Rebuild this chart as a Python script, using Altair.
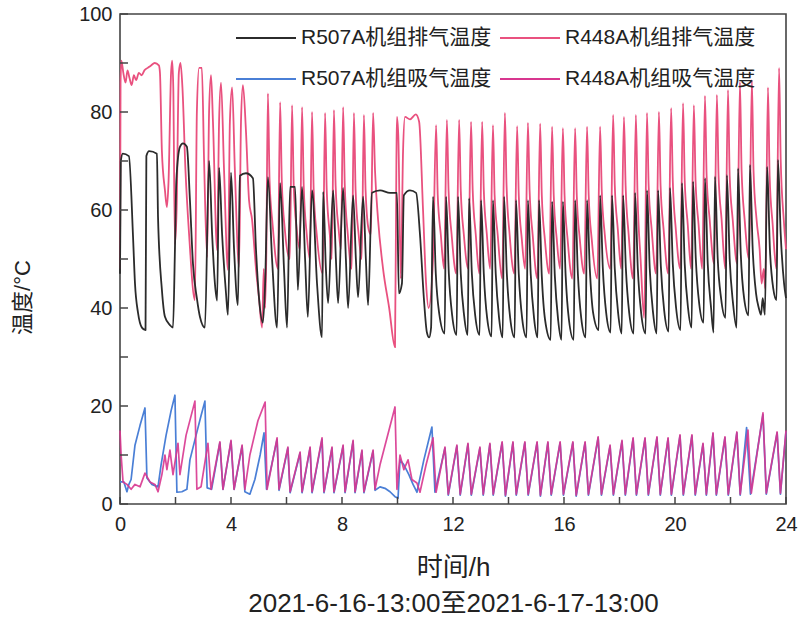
import altair as alt
import pandas as pd

# ---------------- data (hours, °C) ----------------
hours_major = [0, 4, 8, 12, 16, 20, 24]
hours_minor = [2, 6, 10, 14, 18, 22]
temp_major = [0, 20, 40, 60, 80, 100]
temp_minor = [10, 30, 50, 70, 90]

series_names = ["R507A机组排气温度", "R448A机组排气温度", "R507A机组吸气温度", "R448A机组吸气温度"]
series_colors = ["#2b2b2b", "#e9517f", "#4a7fd6", "#d8368f"]
# legend grid is filled column by column: this order gives rows (排气, 排气) / (吸气, 吸气)
legend_order = [series_names[0], series_names[2], series_names[1], series_names[3]]
legend_colors = [series_colors[0], series_colors[2], series_colors[1], series_colors[3]]

r507a_discharge = [
    (0.00, 47), (0.03, 70), (0.10, 71.5), (0.32, 71), (0.47, 54.5), (0.54, 45), (0.65, 39), (0.79, 36), (0.92, 35.5),
    (0.95, 71), (1.05, 72), (1.33, 71.5), (1.37, 58.6), (1.51, 43.7), (1.62, 38.2), (1.80, 36.5), (1.91, 36),
    (1.98, 52), (2.03, 66), (2.16, 72.9), (2.27, 73.6), (2.41, 72.9), (2.52, 62), (2.63, 49), (2.77, 42), (2.88, 38.2), (3.06, 36),
    (3.21, 70), (3.32, 55), (3.42, 45), (3.50, 41.5),
    (3.57, 68.6), (3.68, 55), (3.82, 43), (3.89, 38.6),
    (4.00, 67.6), (4.11, 52), (4.25, 40.6),
    (4.32, 67), (4.54, 67.5), (4.79, 66.5), (4.90, 52), (5.01, 42), (5.15, 37), (5.23, 45),
    (5.33, 66.7), (5.48, 50), (5.66, 36),
    (5.77, 65.5), (5.91, 48), (6.02, 36),
    (6.13, 64.7), (6.31, 64.7), (6.41, 43.7),
    (6.56, 64.7), (6.67, 50), (6.77, 38.2),
    (6.92, 64), (7.10, 45), (7.28, 34),
    (7.32, 63.7), (7.42, 48), (7.50, 41),
    (7.68, 64), (7.78, 50), (7.86, 41),
    (8.04, 64.5), (8.14, 50), (8.22, 40),
    (8.40, 63), (8.50, 50), (8.58, 42.2),
    (8.76, 62.7), (8.86, 50), (8.94, 40.6),
    (9.08, 63.5), (9.37, 64), (9.73, 63.5), (9.98, 63.5), (10.05, 43), (10.16, 45),
    (10.23, 63), (10.45, 64), (10.67, 63.5), (10.81, 55), (10.95, 42), (11.06, 35), (11.14, 34), (11.21, 36),
    (11.28, 62.7), (11.38, 47), (11.50, 39), (11.70, 34.8),
    (11.75, 62.7), (11.85, 47), (11.97, 38.5), (12.13, 34.5),
    (12.18, 62.7), (12.28, 47), (12.40, 38.5), (12.53, 34.5),
    (12.58, 62.4), (12.68, 47), (12.80, 38.5), (12.96, 34.5),
    (13.01, 62), (13.11, 47), (13.23, 38), (13.39, 34.2),
    (13.44, 62), (13.54, 47), (13.66, 38), (13.79, 34),
    (13.84, 62.7), (13.94, 47), (14.06, 38), (14.22, 34),
    (14.27, 62), (14.37, 47), (14.49, 38), (14.65, 34),
    (14.70, 62), (14.80, 47), (14.92, 38), (15.05, 34),
    (15.10, 62), (15.20, 46.5), (15.32, 37.5), (15.52, 33.5),
    (15.57, 61.7), (15.67, 46.5), (15.79, 37.5), (15.91, 33.5),
    (15.96, 61.7), (16.06, 46.5), (16.18, 37.5), (16.35, 33.5),
    (16.40, 62), (16.50, 47), (16.62, 38), (16.78, 34),
    (16.83, 62), (16.93, 48), (17.05, 39), (17.25, 35.5),
    (17.30, 63), (17.40, 48), (17.52, 39), (17.68, 35),
    (17.73, 63), (17.83, 48), (17.95, 39), (18.08, 34.8),
    (18.13, 63), (18.23, 48), (18.35, 39), (18.51, 34.8),
    (18.56, 63.5), (18.66, 48), (18.78, 39), (18.94, 34.8),
    (18.99, 64), (19.09, 48), (19.21, 39), (19.34, 34.8),
    (19.39, 64), (19.49, 48.5), (19.61, 39.5), (19.77, 35.2),
    (19.82, 64.5), (19.92, 49), (20.04, 40), (20.20, 35.5),
    (20.25, 65.5), (20.35, 49), (20.47, 40), (20.60, 36),
    (20.65, 65.8), (20.75, 50), (20.87, 41), (21.03, 37),
    (21.08, 66.5), (21.18, 49), (21.30, 40), (21.39, 35),
    (21.44, 66.8), (21.54, 50), (21.66, 42), (21.82, 38),
    (21.87, 67.1), (21.97, 50), (22.09, 41), (22.22, 36),
    (22.27, 68.5), (22.37, 51), (22.49, 42), (22.65, 38.5),
    (22.70, 69.2), (22.80, 52), (22.92, 43), (23.02, 40), (23.10, 38.6), (23.16, 42), (23.24, 38.6),
    (23.32, 68.8), (23.42, 52), (23.54, 44), (23.66, 41.6),
    (23.71, 70.2), (23.81, 55), (23.93, 45), (24.00, 42),
]

r448a_discharge = [
    (0.00, 48), (0.02, 86), (0.05, 90.5), (0.12, 88), (0.20, 86), (0.27, 88.5), (0.34, 87), (0.42, 85.5), (0.50, 87.5),
    (0.58, 86.5), (0.68, 88), (0.78, 87.5), (0.88, 88.5), (1.00, 89), (1.12, 89.5), (1.25, 90), (1.40, 89.5),
    (1.44, 88), (1.51, 72), (1.62, 64), (1.69, 60.6), (1.75, 66), (1.84, 88), (1.88, 90.5), (1.92, 85), (1.98, 53),
    (2.04, 60), (2.12, 88), (2.18, 90), (2.25, 85), (2.36, 68), (2.49, 55), (2.70, 41.6),
    (2.77, 80), (2.85, 89), (2.95, 89), (3.03, 70), (3.14, 50.4),
    (3.21, 80), (3.28, 87.5), (3.35, 78), (3.50, 51.8),
    (3.57, 78), (3.64, 86), (3.75, 68), (3.89, 47.8),
    (3.96, 78), (4.04, 85), (4.14, 68), (4.29, 48.4),
    (4.36, 78), (4.43, 85.5), (4.54, 76), (4.65, 62), (4.76, 58), (4.90, 48), (5.01, 42), (5.12, 36), (5.18, 48), (5.23, 40),
    (5.27, 50), (5.33, 83.8), (5.39, 66), (5.50, 57), (5.69, 48),
    (5.77, 82), (5.83, 66), (5.94, 56), (6.12, 50),
    (6.20, 81.4), (6.26, 65), (6.37, 56), (6.48, 52),
    (6.56, 81), (6.62, 65), (6.73, 55), (6.84, 50),
    (6.92, 80), (6.98, 64), (7.09, 55), (7.31, 47),
    (7.39, 79.8), (7.45, 64), (7.56, 55), (7.63, 50),
    (7.71, 80.4), (7.77, 65), (7.88, 56), (7.96, 52),
    (8.04, 81), (8.10, 65), (8.21, 55), (8.35, 48),
    (8.43, 79.8), (8.49, 64), (8.60, 55), (8.71, 50),
    (8.79, 79.4), (8.85, 64), (8.96, 56), (9.04, 55),
    (9.12, 79.8), (9.19, 68), (9.30, 58), (9.48, 48), (9.70, 40), (9.91, 32),
    (9.96, 70), (9.98, 79), (10.03, 75), (10.12, 46), (10.20, 72), (10.27, 79), (10.45, 78.5), (10.66, 79.5),
    (10.78, 78), (10.92, 60), (11.03, 45), (11.12, 40), (11.28, 50),
    (11.39, 77.3), (11.45, 63), (11.56, 55), (11.68, 48),
    (11.78, 78.4), (11.84, 64), (11.95, 55), (12.12, 47),
    (12.22, 78.4), (12.28, 64), (12.39, 55), (12.55, 48),
    (12.65, 78), (12.71, 64), (12.82, 55), (12.95, 47),
    (13.05, 78), (13.11, 64), (13.22, 55), (13.34, 48),
    (13.44, 77.3), (13.50, 63), (13.61, 55), (13.77, 46),
    (13.87, 79.8), (13.93, 65), (14.04, 55), (14.21, 47),
    (14.31, 77.1), (14.37, 63), (14.48, 54), (14.60, 48),
    (14.70, 77.8), (14.76, 64), (14.87, 55), (15.04, 46),
    (15.14, 77.6), (15.20, 63), (15.31, 54), (15.47, 47),
    (15.57, 77), (15.63, 63), (15.74, 54), (15.86, 48),
    (15.96, 76.7), (16.02, 63), (16.13, 54), (16.30, 46),
    (16.40, 76.7), (16.46, 63), (16.57, 54), (16.73, 47),
    (16.83, 77), (16.89, 63), (17.00, 54), (17.20, 46),
    (17.30, 77), (17.36, 64), (17.47, 55), (17.67, 48),
    (17.77, 79.4), (17.83, 65), (17.94, 56), (18.06, 48),
    (18.16, 79), (18.22, 65), (18.33, 55), (18.49, 46),
    (18.59, 79.4), (18.65, 63), (18.76, 50), (18.89, 38),
    (18.99, 79.8), (19.05, 65), (19.16, 56), (19.32, 47),
    (19.42, 80), (19.48, 65), (19.59, 56), (19.76, 47),
    (19.86, 80.8), (19.92, 66), (20.03, 56), (20.19, 48),
    (20.29, 81.8), (20.35, 66), (20.46, 57), (20.58, 48),
    (20.68, 81.4), (20.74, 66), (20.85, 57), (20.98, 48),
    (21.08, 83.3), (21.14, 67), (21.25, 58), (21.41, 49),
    (21.51, 83.5), (21.57, 67), (21.68, 58), (21.81, 48),
    (21.91, 84.5), (21.97, 67), (22.08, 58), (22.24, 49),
    (22.34, 86.1), (22.40, 68), (22.51, 58), (22.67, 50),
    (22.77, 86.5), (22.83, 68), (22.94, 58), (23.05, 52), (23.12, 45), (23.20, 48), (23.25, 44),
    (23.35, 85), (23.41, 67), (23.52, 57), (23.65, 48),
    (23.75, 89), (23.81, 70), (23.92, 58), (24.00, 52),
]

r507a_suction = [
    (0.00, 4.5), (0.14, 4.5), (0.25, 2.5), (0.32, 4), (0.40, 5), (0.54, 12), (0.72, 16), (0.90, 19.6), (0.97, 5.3),
    (1.15, 4), (1.37, 3.5), (1.48, 8), (1.66, 14), (1.84, 19), (1.98, 22.2), (2.05, 2.4), (2.23, 2.5), (2.41, 3),
    (2.52, 9), (2.74, 14), (2.92, 18), (3.06, 21), (3.14, 3.3), (3.30, 3),
    (3.60, 12.5), (3.71, 3), (4.00, 12.8), (4.11, 3), (4.40, 11.8), (4.50, 2.5), (4.68, 2), (4.86, 5), (5.05, 10),
    (5.19, 14.5), (5.28, 3),
    (5.66, 13.2), (5.73, 2.8), (6.05, 11.4), (6.13, 2.3), (6.49, 10.4), (6.56, 2.3), (6.85, 11.4), (6.92, 2.3),
    (7.28, 13.2), (7.35, 2.3), (7.64, 11.4), (7.71, 2.3), (8.04, 11.8), (8.11, 2.3), (8.40, 12.8), (8.47, 2.3),
    (8.72, 10.8), (8.79, 2.3), (9.12, 10.8), (9.19, 2.8), (9.37, 3.5), (9.55, 3.2), (9.73, 2.5), (9.91, 1.5),
    (10.02, 1.2), (10.09, 9), (10.23, 8), (10.41, 6), (10.56, 4), (10.70, 2.4), (10.95, 9), (11.24, 15.7), (11.35, 2.4),
    (11.71, 11.4), (11.83, 1.8), (12.14, 11.8), (12.26, 1.8), (12.54, 12.2), (12.66, 1.8), (12.97, 11.4), (13.09, 1.8),
    (13.33, 12.2), (13.45, 1.8), (13.77, 12.5), (13.89, 1.6), (14.16, 12.5), (14.28, 1.8), (14.59, 12.5), (14.71, 1.8),
    (15.03, 12.5), (15.15, 1.6), (15.42, 12.5), (15.54, 1.8), (15.86, 12.5), (15.98, 1.8), (16.32, 12.5), (16.44, 1.6),
    (16.76, 12.5), (16.88, 1.8), (17.23, 13.5), (17.35, 1.8), (17.66, 11.8), (17.78, 1.8), (18.09, 12.8), (18.21, 1.8),
    (18.49, 13.3), (18.61, 1.8), (18.92, 13.3), (19.04, 1.8), (19.35, 13.5), (19.47, 1.8), (19.75, 13.3), (19.87, 1.8),
    (20.18, 13.9), (20.30, 1.8), (20.61, 13.9), (20.73, 1.8), (21.01, 12.2), (21.13, 1.8), (21.37, 14.3), (21.49, 1.8),
    (21.80, 13.5), (21.92, 1.8), (22.23, 14.5), (22.35, 1.8), (22.58, 15.6), (22.72, 2), (23.17, 18.2), (23.29, 2),
    (23.68, 14.5), (23.80, 2), (24.00, 14.8),
]

r448a_suction = [
    (0.00, 15), (0.04, 10), (0.11, 4.5), (0.25, 4), (0.40, 3), (0.54, 4), (0.72, 3.5), (0.90, 6.3), (1.08, 4.5),
    (1.26, 4), (1.37, 2.5), (1.51, 6), (1.62, 10), (1.69, 7), (1.80, 11), (1.91, 6), (2.09, 12.4), (2.16, 6),
    (2.38, 14), (2.70, 21), (2.77, 3), (2.92, 3.5),
    (3.17, 12.4), (3.28, 3), (3.60, 12.7), (3.71, 3), (4.00, 13), (4.11, 3), (4.40, 12), (4.50, 3), (4.68, 10),
    (4.97, 17), (5.23, 20.8), (5.30, 3),
    (5.66, 13.5), (5.73, 3), (6.05, 11.6), (6.13, 2.5), (6.49, 10.6), (6.56, 2.5), (6.85, 11.6), (6.92, 2.5),
    (7.28, 13.5), (7.35, 2.5), (7.64, 11.6), (7.71, 2.5), (8.04, 12), (8.11, 2.5), (8.40, 13), (8.47, 2.5),
    (8.72, 11), (8.79, 2.5), (9.12, 11), (9.19, 3), (9.37, 8), (9.91, 19.8), (9.98, 3),
    (10.09, 10), (10.23, 7), (10.38, 9), (10.52, 5), (10.70, 4.3), (10.81, 2.4), (11.03, 8), (11.28, 13.5), (11.39, 2.4),
    (11.71, 11.6), (11.83, 2), (12.14, 12), (12.26, 2), (12.54, 12.4), (12.66, 2), (12.97, 11.6), (13.09, 2),
    (13.33, 12.4), (13.45, 2), (13.77, 12.7), (13.89, 1.8), (14.16, 12.7), (14.28, 2), (14.59, 12.7), (14.71, 2),
    (15.03, 12.7), (15.15, 1.8), (15.42, 12.7), (15.54, 2), (15.86, 12.7), (15.98, 2), (16.32, 12.7), (16.44, 1.8),
    (16.76, 12.7), (16.88, 2), (17.23, 13.7), (17.35, 2), (17.66, 12), (17.78, 2), (18.09, 13), (18.21, 2),
    (18.49, 13.5), (18.61, 2), (18.92, 13.5), (19.04, 2), (19.35, 13.7), (19.47, 2), (19.75, 13.5), (19.87, 2),
    (20.18, 14.1), (20.30, 2), (20.61, 14.1), (20.73, 2), (21.01, 12.4), (21.13, 2), (21.37, 14.5), (21.49, 2),
    (21.80, 13.7), (21.92, 2), (22.23, 14.7), (22.35, 2), (22.63, 15.1), (22.75, 2.2), (23.17, 18.6), (23.29, 2.2),
    (23.68, 14.7), (23.80, 2.2), (24.00, 15),
]

x_title = ["时间/h", "2021-6-16-13:00至2021-6-17-13:00"]
y_title = "温度/°C"

# ---------------- chart ----------------
FONT = "Liberation Sans, Noto Sans CJK SC, sans-serif"
W, H = 666, 490


def frame(name, pts):
    return pd.DataFrame({
        "t": [p[0] for p in pts],
        "v": [p[1] for p in pts],
        "series": name,
        "i": list(range(len(pts))),
    })


x_scale = alt.Scale(domain=[0, 24], nice=False, zero=False)
y_scale = alt.Scale(domain=[0, 100], nice=False, zero=False)
color_scale = alt.Scale(domain=legend_order, range=legend_colors)

x_axis = alt.Axis(values=hours_major, ticks=False, domain=False, grid=False, labelFlush=False,
                  labelFontSize=20, labelFont=FONT, labelColor="#222", labelPadding=10,
                  title=x_title, titleFont=FONT, titleFontSize=26, titleFontWeight="normal",
                  titleColor="#222", titleLineHeight=36, titleBaseline="top", titleY=50)
y_axis = alt.Axis(values=temp_major, ticks=False, domain=False, grid=False, labelFlush=False,
                  labelFontSize=20, labelFont=FONT, labelColor="#222", labelPadding=8,
                  title=y_title, titleFont=FONT, titleFontSize=22, titleFontWeight="normal",
                  titleColor="#222", titleAngle=270, titleBaseline="middle", titleAlign="center",
                  titleX=-98, titleY=283)

legend = alt.Legend(title=None, orient="none", legendX=115, legendY=-7, columns=2,
                    symbolType="stroke", symbolSize=3600, symbolStrokeWidth=2,
                    labelFontSize=21, labelFont=FONT, labelColor="#222", labelLimit=400,
                    labelOffset=4, columnPadding=4, rowPadding=-27)

X = alt.X("t:Q", scale=x_scale, axis=x_axis)
Y = alt.Y("v:Q", scale=y_scale, axis=y_axis)


def line(name, pts, width=1.7, opacity=1.0, interp="linear"):
    return alt.Chart(frame(name, pts)).mark_line(
        strokeWidth=width, opacity=opacity, interpolate=interp, strokeJoin="round"
    ).encode(
        x=X, y=Y,
        color=alt.Color("series:N", scale=color_scale, legend=legend),
        order="i:Q",
    )


layers = [
    line(series_names[2], r507a_suction),
    line(series_names[3], r448a_suction, 1.7, 0.9),
    line(series_names[1], r448a_discharge, 1.8, 1.0, "monotone"),
    line(series_names[0], r507a_discharge, 1.8, 1.0, "monotone"),
]

xt = pd.DataFrame({"t": hours_major + hours_minor})
yt = pd.DataFrame({"v": temp_major + temp_minor})
xticks = alt.Chart(xt).mark_rule(color="#444", strokeWidth=1.5).encode(
    x=X, y=alt.value(H), y2=alt.value(H - 7))
yticks = alt.Chart(yt).mark_rule(color="#444", strokeWidth=1.5).encode(
    y=Y, x=alt.value(0), x2=alt.value(8))

chart = alt.layer(*layers, xticks, yticks).properties(
    width=W, height=H,
    autosize=alt.AutoSizeParams(type="none"),
    padding={"left": 120, "top": 14, "right": 13, "bottom": 116},
    background="white",
).configure_view(stroke="#444", strokeWidth=1.6)

chart.save("out.html", embed_options={"renderer": "svg", "actions": False})
